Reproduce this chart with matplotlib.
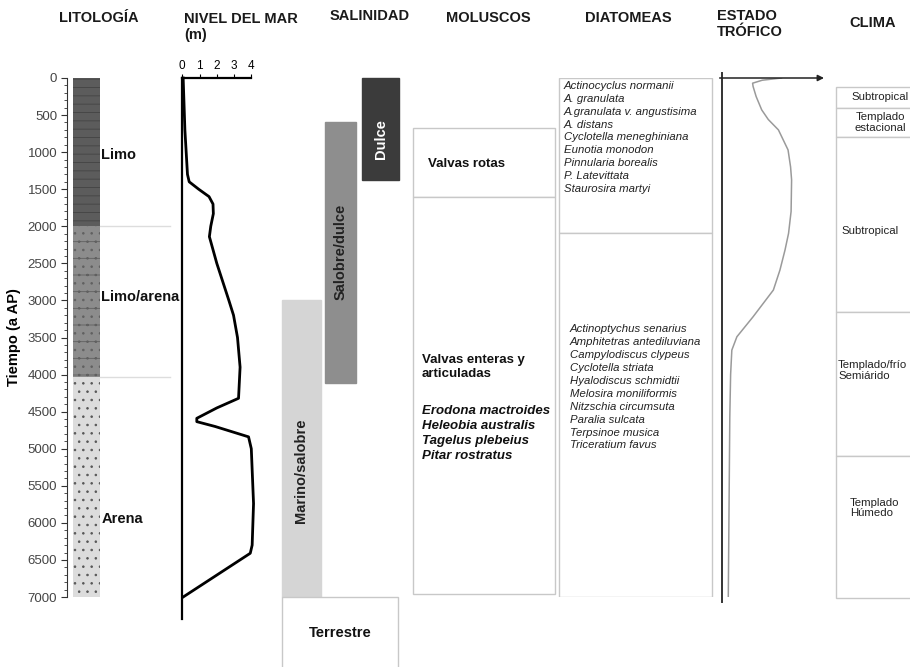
import matplotlib
matplotlib.use("Agg")
import matplotlib.pyplot as plt
import numpy as np

plt.rcParams['font.family'] = ['Liberation Sans', 'DejaVu Sans']
plt.rcParams['hatch.linewidth'] = 0.6

# --- data (years BP) ---
lith_names = ['Limo', 'Limo/arena', 'Arena']
lith_top = [0, 2000, 4030]
lith_bottom = [2000, 4030, 7000]
lith_label_year = [1040, 2950, 5950]

sea_year = [0, 700, 1300, 1400, 1500, 1600, 1700, 1830, 2000, 2140, 2500, 3000,
            3200, 3500, 3900, 4320, 4450, 4590, 4635, 4700, 4840, 5000, 5740,
            6300, 6410, 7000]
sea_level = [0.05, 0.15, 0.3, 0.4, 0.95, 1.55, 1.78, 1.8, 1.65, 1.57, 2.0, 2.7,
             2.97, 3.2, 3.35, 3.26, 2.0, 0.84, 0.84, 1.9, 3.84, 4.0, 4.13,
             4.05, 3.94, 0.05]

sal_names = ['Dulce', 'Salobre/dulce', 'Marino/salobre', 'Terrestre']
sal_top = [0, 590, 2995, 7000]
sal_bottom = [1370, 4120, 7000, 8200]

mol_top = [680, 1610]
mol_bottom = [1610, 6960]
mol_titles = ['Valvas rotas', 'Valvas enteras y\narticuladas']
mol_species = ['Erodona mactroides', 'Heleobia australis', 'Tagelus plebeius',
               'Pitar rostratus']

dia_top = [0, 2085]
dia_bottom = [2085, 7000]
dia_upper = ['Actinocyclus normanii', 'A. granulata', 'A.granulata v. angustisima',
             'A. distans', 'Cyclotella meneghiniana', 'Eunotia monodon',
             'Pinnularia borealis', 'P. Latevittata', 'Staurosira martyi']
dia_lower = ['Actinoptychus senarius', 'Amphitetras antediluviana',
             'Campylodiscus clypeus', 'Cyclotella striata', 'Hyalodiscus schmidtii',
             'Melosira moniliformis', 'Nitzschia circumsuta', 'Paralia sulcata',
             'Terpsinoe musica', 'Triceratium favus']

tro_year = [0, 30, 70, 115, 250, 430, 560, 700, 970, 1200, 1375, 1800, 2095,
            2320, 2590, 2860, 3040, 3220, 3355, 3490, 3670, 4000, 4570, 7000]
tro_value = [5.9, 4.0, 3.05, 3.1, 3.4, 3.95, 4.6, 5.6, 6.55, 6.8, 6.9, 6.85,
             6.6, 6.25, 5.75, 5.1, 4.1, 3.1, 2.3, 1.5, 1.0, 0.88, 0.8, 0.65]

clima_names = ['Subtropical', 'Templado\nestacional', 'Subtropical',
               'Templado/frío\nSemiárido', 'Templado\nHúmedo']
clima_top = [117, 409, 800, 3160, 5100]
clima_bottom = [409, 800, 3160, 5100, 7020]

# --- layout (pixels) ---
W, H = 910, 667
Y0, Y1 = 78, 597  # pixel rows of 0 and 7000 years

fig = plt.figure(figsize=(W / 100, H / 100), dpi=100)


def add_ax(x0, x1):
    ax = fig.add_axes([x0 / W, 1 - Y1 / H, (x1 - x0) / W, (Y1 - Y0) / H])
    ax.set_ylim(7000, 0)
    return ax


ax = add_ax(0, W)
ax.set_xlim(0, W)
ax.axis('off')
box_ec = '#c8c8c8'

# --- lithology ---
axl = add_ax(72.5, 99.5)
axl.set_xlim(0, 1)
lith_face = ['#5c5c5c', '#8c8c8c', '#dcdcdc']
lith_hatch = ['--', '-..', '..']
lith_hcol = ['#444444', '#606060', '#555555']
for i in range(3):
    axl.bar(0.5, lith_bottom[i] - lith_top[i], bottom=lith_top[i], width=1,
            color=lith_face[i], hatch=lith_hatch[i], edgecolor=lith_hcol[i], lw=0)
    ax.text(101.5, lith_label_year[i], lith_names[i], fontsize=10.5,
            fontweight='bold', va='center', ha='left', color='#111111')
for yb in lith_bottom[:2]:
    ax.plot([100, 170], [yb, yb], color='#dddddd', lw=1)
for s in ['top', 'right', 'bottom']:
    axl.spines[s].set_visible(False)
axl.spines['left'].set_position(('outward', 4))
axl.spines['left'].set_color('#333333')
axl.set_xticks([])
axl.set_yticks(np.arange(0, 7001, 500))
axl.set_yticks(np.arange(0, 7001, 100), minor=True)
axl.tick_params(axis='y', which='major', length=4, labelsize=9.5,
                labelcolor='#444444', color='#333333', pad=3)
axl.tick_params(axis='y', which='minor', length=2, color='#333333')
axl.set_ylabel('Tiempo (a AP)', fontsize=10.5, fontweight='bold', labelpad=5)

# --- sea level ---
axs = add_ax(182.3, 251.3)
axs.set_xlim(0, 4)
axs.plot(sea_level, sea_year, color='black', lw=2, clip_on=False)
axs.plot([0, 0], [0, 7300], color='black', lw=1.6, clip_on=False)
for s in ['left', 'right', 'bottom']:
    axs.spines[s].set_visible(False)
axs.spines['top'].set_linewidth(1.6)
axs.xaxis.tick_top()
axs.set_xticks([0, 1, 2, 3, 4])
axs.tick_params(axis='x', length=3, labelsize=8.5, pad=1)
axs.set_yticks([])
axs.patch.set_alpha(0)

# --- salinity ---
sal_x = [(362, 399), (325, 356), (282, 321), (282, 398)]
sal_face = ['#3b3b3b', '#8e8e8e', '#d5d5d5', 'white']
sal_ec = ['#3b3b3b', '#8e8e8e', '#d5d5d5', box_ec]
sal_text_year = [820, 2350, 5300, 7480]
for i in range(4):
    x0, x1 = sal_x[i]
    ax.bar((x0 + x1) / 2, sal_bottom[i] - sal_top[i], bottom=sal_top[i],
           width=x1 - x0, color=sal_face[i], edgecolor=sal_ec[i], lw=1,
           clip_on=False)
    if i < 3:
        ax.text((x0 + x1) / 2, sal_text_year[i], sal_names[i], rotation=90,
                ha='center', va='center', fontsize=10.5, fontweight='bold',
                color='white' if i == 0 else '#222222')
    else:
        ax.text((x0 + x1) / 2, sal_text_year[i], sal_names[i], ha='center',
                va='center', fontsize=10.5, fontweight='bold', color='#111111',
                clip_on=False)

# --- molluscs ---
for i in range(2):
    ax.bar(484, mol_bottom[i] - mol_top[i], bottom=mol_top[i], width=142,
           color='white', edgecolor=box_ec, lw=1)
ax.text(427.5, 1160, mol_titles[0], fontsize=9.5, fontweight='bold',
        va='center', ha='left', color='#111111')
ax.text(421.5, 3900, mol_titles[1], fontsize=9.5, fontweight='bold',
        va='center', ha='left', color='#111111', linespacing=1.15)
for k, sp in enumerate(mol_species):
    ax.text(421.5, 4490 + k * 202, sp, fontsize=9.5, fontweight='bold',
            style='italic', va='center', ha='left', color='#111111')

# --- diatoms ---
for i in range(2):
    ax.bar(635.5, dia_bottom[i] - dia_top[i], bottom=dia_top[i], width=153,
           color='white', edgecolor=box_ec, lw=1)
for k, sp in enumerate(dia_upper):
    ax.text(564, 110 + k * 173, sp, fontsize=8.2, style='italic', va='center',
            ha='left', color='#222222')
for k, sp in enumerate(dia_lower):
    ax.text(570, 3390 + k * 174, sp, fontsize=8.2, style='italic', va='center',
            ha='left', color='#222222')

# --- trophic state ---
axt = add_ax(721.7, 823)
axt.set_xlim(0, 10)
axt.axis('off')
axt.plot(tro_value, tro_year, color='#9a9a9a', lw=1.1)
axt.plot([0, 0], [-70, 7070], color='#333333', lw=1.4, clip_on=False)
axt.annotate('', xy=(10.1, 0), xytext=(-0.2, 0),
             arrowprops=dict(arrowstyle='-|>', color='#222222', lw=1.1,
                             mutation_scale=9, shrinkA=0, shrinkB=0),
             annotation_clip=False)

# --- climate ---
for i in range(5):
    ax.bar(878, clima_bottom[i] - clima_top[i], bottom=clima_top[i], width=84,
           color='white', edgecolor=box_ec, lw=1, clip_on=False)
clima_pos = [(880, 'center'), (880, 'center'), (841, 'left'), (838, 'left'),
             (850, 'left')]
clima_year = [263, 600, 2060, 3950, 5800]
for i in range(5):
    x, ha = clima_pos[i]
    ax.text(x, clima_year[i], clima_names[i], fontsize=8.2, ha=ha, va='center',
            color='#222222', linespacing=1.1, multialignment=ha)

# --- headers ---
hdr = dict(fontsize=10.5, fontweight='bold', color='#1a1a1a')
fig.text(99 / W, 1 - 18 / H, 'LITOLOGÍA', ha='center', va='center', **hdr)
fig.text(184 / W, 1 - 27 / H, 'NIVEL DEL MAR\n(m)', ha='left', va='center',
         linespacing=1.15, **hdr)
fig.text(370 / W, 1 - 16 / H, 'SALINIDAD', ha='center', va='center', **hdr)
fig.text(488 / W, 1 - 18 / H, 'MOLUSCOS', ha='center', va='center', **hdr)
fig.text(628 / W, 1 - 18 / H, 'DIATOMEAS', ha='center', va='center', **hdr)
fig.text(717 / W, 1 - 24 / H, 'ESTADO\nTRÓFICO', ha='left', va='center',
         linespacing=1.1, **hdr)
fig.text(873 / W, 1 - 23 / H, 'CLIMA', ha='center', va='center', **hdr)

fig.savefig('out.png', dpi=100)
